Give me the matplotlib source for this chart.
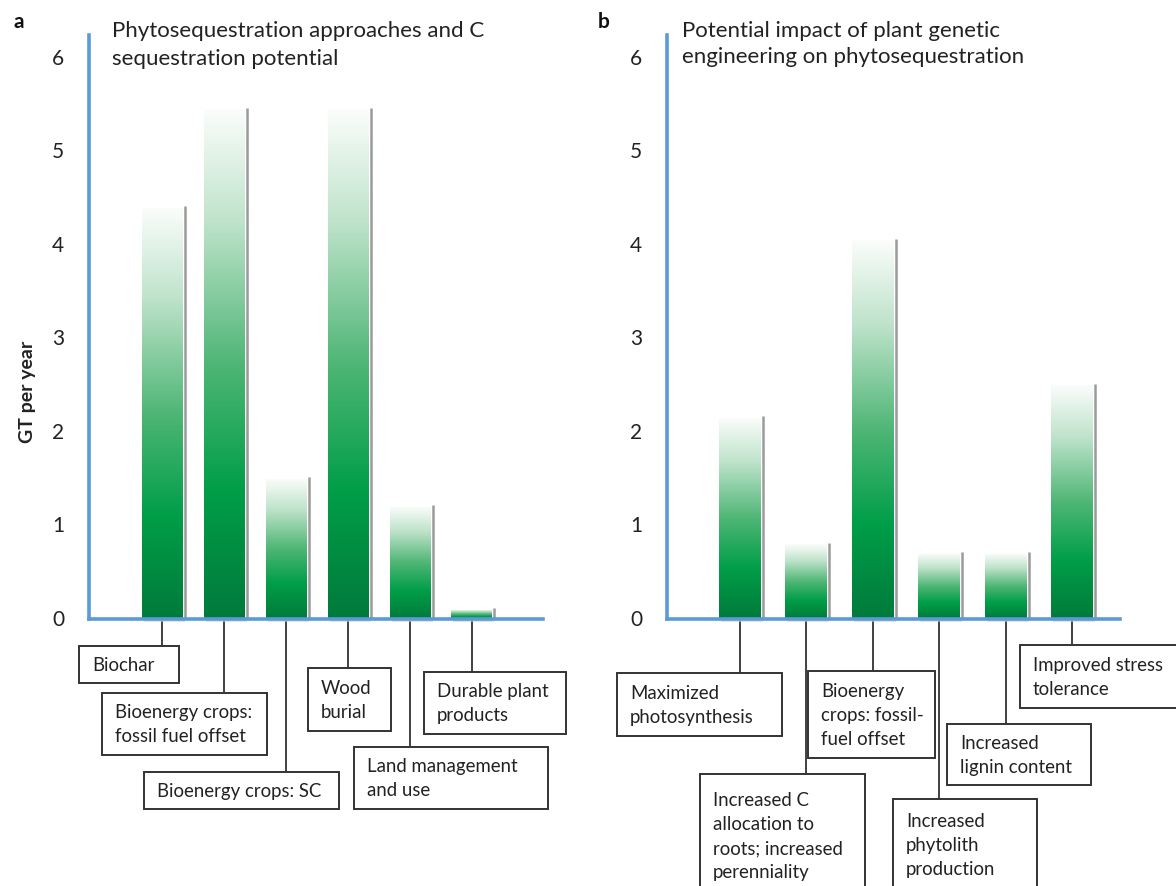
import numpy as np
import matplotlib
matplotlib.use("Agg")
import matplotlib.pyplot as plt
from matplotlib.colors import LinearSegmentedColormap
from matplotlib.patches import Rectangle
from matplotlib import transforms

plt.rcParams['font.family'] = ['Lato', 'DejaVu Sans']

# ---------------- data ----------------
cats_a = ["Biochar", "Bioenergy crops:\nfossil fuel offset", "Bioenergy crops: SC",
          "Wood\nburial", "Land management\nand use", "Durable plant\nproducts"]
vals_a = [4.4, 5.45, 1.5, 5.45, 1.2, 0.1]

cats_b = ["Maximized\nphotosynthesis", "Increased C\nallocation to\nroots; increased\nperenniality",
          "Bioenergy\ncrops: fossil-\nfuel offset", "Increased\nphytolith\nproduction",
          "Increased\nlignin content", "Improved stress\ntolerance"]
vals_b = [2.15, 0.8, 4.05, 0.7, 0.7, 2.5]

yticks = [0, 1, 2, 3, 4, 5, 6]
title_a = "Phytosequestration approaches and C\nsequestration potential"
title_b = "Potential impact of plant genetic\nengineering on phytosequestration"
ylabel = "GT per year"

# ---------------- layout ----------------
W, H = 1176, 887
fig = plt.figure(figsize=(W / 100, H / 100), dpi=100)
fig.patch.set_facecolor("white")

ov = fig.add_axes([0, 0, 1, 1], zorder=0)
ov.set_xlim(0, W)
ov.set_ylim(H, 0)
ov.axis("off")

zero_px = 620
unit_px = 93.5
ytop = (zero_px - 36) / unit_px

cmap = LinearSegmentedColormap.from_list(
    "grn", [(0.0, "#007a3b"), (0.25, "#009e48"), (0.5, "#4fb676"),
            (0.78, "#bfe3cb"), (1.0, "#fbfdfb")])
axis_blue = "#5b9bd5"
txt_col = "#222222"


def make_panel(left_px, right_px, first_center_px, spacing_px, barw_px, vals):
    ax = fig.add_axes([left_px / W, (H - zero_px) / H, (right_px - left_px) / W,
                       ytop * unit_px / H], zorder=1)
    ax.patch.set_alpha(0)
    x = np.arange(len(vals))
    x0 = (left_px - first_center_px) / spacing_px
    x1 = (right_px - first_center_px) / spacing_px
    w = barw_px / spacing_px
    bars = ax.bar(x, vals, width=w, color="none", edgecolor="none", zorder=2)
    grad = np.linspace(0, 1, 256).reshape(-1, 1)
    for b in bars:
        bx, by = b.get_x(), b.get_y()
        bw, bh = b.get_width(), b.get_height()
        im = ax.imshow(grad, cmap=cmap, origin="lower", aspect="auto",
                       extent=[bx, bx + bw, by, by + bh], zorder=2,
                       interpolation="bilinear")
        im.set_clip_path(b)
        # shadow on right edge
        sx = bx + bw + 2.0 / spacing_px
        ax.plot([sx, sx], [0, bh + 1.5 / unit_px], color="#909090", lw=1.8,
                zorder=1.5, solid_capstyle="butt", alpha=0.9)
        ax.add_patch(Rectangle((bx + 2 / spacing_px, -3 / unit_px), bw, 3 / unit_px,
                               color="#cfcfcf", lw=0, zorder=1.4, alpha=0.6,
                               clip_on=False))
    ax.set_xlim(x0, x1)
    ax.set_ylim(0, ytop)
    for s in ["top", "right"]:
        ax.spines[s].set_visible(False)
    for s in ["left", "bottom"]:
        ax.spines[s].set_color(axis_blue)
        ax.spines[s].set_linewidth(2.6)
        ax.spines[s].set_zorder(3)
    ax.set_xticks([])
    ax.set_yticks(yticks)
    ax.set_yticklabels([])
    ax.tick_params(axis="y", length=0)
    return ax, x


ax_a, xa = make_panel(89, 543, 162, 62, 41, vals_a)
ax_b, xb = make_panel(667, 1120, 740, 66.4, 42, vals_b)

# y tick labels placed at their data positions
for ax, cx in [(ax_a, 58), (ax_b, 636)]:
    tr = transforms.blended_transform_factory(ov.transData, ax.transData)
    for t in yticks:
        ov.text(cx, t, str(t), transform=tr, ha="center", va="center",
                fontsize=15, color=txt_col)

# panel letters and titles
ov.text(14, 22, "a", fontsize=15, fontweight="bold", ha="left", va="center", color="#111111")
ov.text(598, 22, "b", fontsize=15, fontweight="bold", ha="left", va="center", color="#111111")
ov.text(112, 45, title_a, fontsize=16, ha="left", va="center", linespacing=1.5,
        color=txt_col)
ov.text(682, 44, title_b, fontsize=16, ha="left", va="center", linespacing=1.4,
        color=txt_col)
ov.text(27, 392, ylabel, fontsize=14, fontweight="bold", rotation=90,
        ha="center", va="center", color=txt_col)

# label boxes: (left, top, right, bottom) in pixels, plus text centre y
boxes_a = [(79, 647, 179, 684), (102, 694, 267, 756), (144, 773, 339, 810),
           (308, 669, 391, 732), (354, 748, 548, 810), (424, 673, 566, 735)]
boxes_b = [(617, 674, 782, 737), (700, 775, 865, 892), (808, 672, 935, 759),
           (893, 800, 1037, 892), (947, 725, 1091, 786), (1020, 646, 1180, 709)]
text_y_b = [None, 837, None, 846, None, None]


def draw_labels(ax, xs, cats, boxes, text_y=None):
    tr = transforms.blended_transform_factory(ax.transData, ov.transData)
    if text_y is None:
        text_y = [None] * len(cats)
    for xv, cat, (l, t, r, b), ty in zip(xs, cats, boxes, text_y):
        ov.plot([xv, xv], [zero_px + 2, t], transform=tr, color="#333333", lw=1.3,
                zorder=1)
        ov.add_patch(Rectangle((l, t), r - l, b - t, facecolor="white",
                               edgecolor="#333333", lw=1.4, zorder=2))
        yc = (t + b) / 2 if ty is None else ty
        ov.text(l + 13, yc, cat, ha="left", va="center", fontsize=13.4,
                linespacing=1.5, color=txt_col, zorder=3)


draw_labels(ax_a, xa, cats_a, boxes_a)
draw_labels(ax_b, xb, cats_b, boxes_b, text_y_b)

fig.savefig("out.png", dpi=100, facecolor="white")
